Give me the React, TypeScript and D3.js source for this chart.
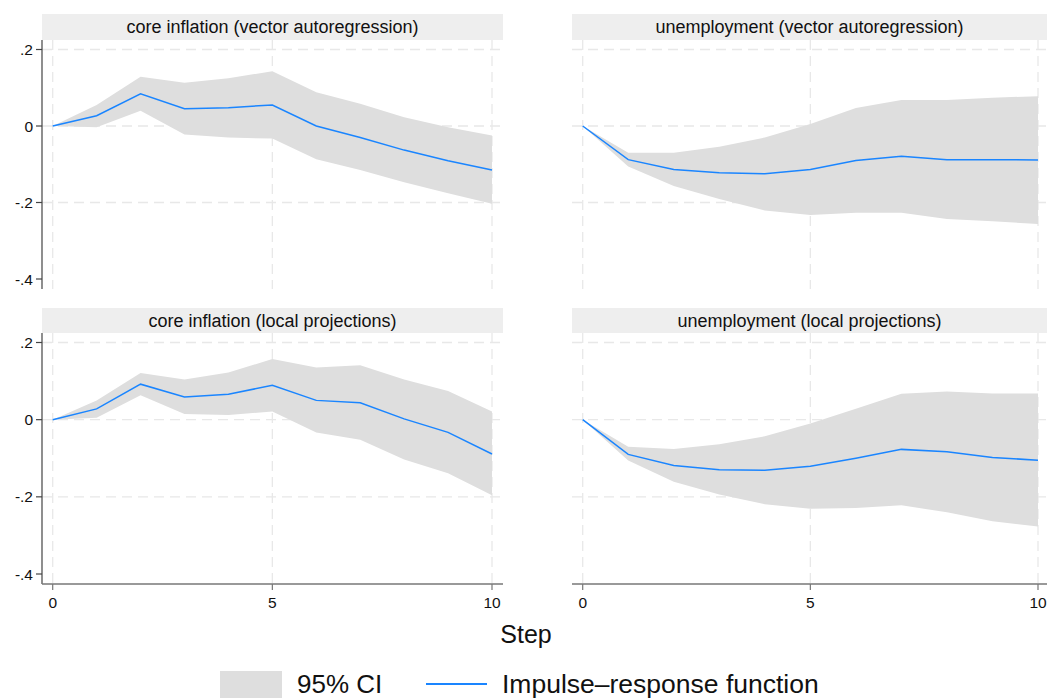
import React from 'react';
import * as d3 from 'd3';

const width = 1047;
const height = 698;

const steps = [0, 1, 2, 3, 4, 5, 6, 7, 8, 9, 10];
const xTicks = [0, 5, 10];
const yTicks = [0.2, 0, -0.2, -0.4];
const yTickLabels = ['.2', '0', '-.2', '-.4'];
const gridYValues = [0.2, 0, -0.2];

// core inflation, vector autoregression
const coreVarIrf = [0, 0.027, 0.084, 0.045, 0.048, 0.055, 0.0, -0.03, -0.063, -0.091, -0.115];
const coreVarLo = [0, -0.003, 0.04, -0.022, -0.03, -0.033, -0.087, -0.115, -0.147, -0.176, -0.203];
const coreVarHi = [0, 0.055, 0.129, 0.113, 0.125, 0.143, 0.088, 0.058, 0.023, -0.003, -0.025];

// unemployment, vector autoregression
const unempVarIrf = [0, -0.088, -0.114, -0.122, -0.125, -0.114, -0.09, -0.079, -0.088, -0.088, -0.089];
const unempVarLo = [0, -0.106, -0.157, -0.191, -0.221, -0.233, -0.227, -0.227, -0.243, -0.249, -0.256];
const unempVarHi = [0, -0.07, -0.07, -0.054, -0.03, 0.005, 0.047, 0.068, 0.068, 0.074, 0.078];

// core inflation, local projections
const coreLpIrf = [0, 0.028, 0.092, 0.059, 0.066, 0.089, 0.05, 0.044, 0.002, -0.033, -0.089];
const coreLpLo = [0, 0.005, 0.063, 0.015, 0.012, 0.021, -0.033, -0.052, -0.103, -0.139, -0.196];
const coreLpHi = [0, 0.05, 0.121, 0.104, 0.122, 0.157, 0.135, 0.141, 0.104, 0.074, 0.021];

// unemployment, local projections
const unempLpIrf = [0, -0.09, -0.119, -0.13, -0.131, -0.121, -0.1, -0.077, -0.083, -0.098, -0.105];
const unempLpLo = [0, -0.106, -0.161, -0.194, -0.219, -0.231, -0.229, -0.222, -0.24, -0.263, -0.277];
const unempLpHi = [0, -0.07, -0.076, -0.064, -0.043, -0.01, 0.028, 0.067, 0.073, 0.068, 0.068];

const panels = [
  { title: 'core inflation (vector autoregression)', col: 0, row: 0, irf: coreVarIrf, lo: coreVarLo, hi: coreVarHi },
  { title: 'unemployment (vector autoregression)', col: 1, row: 0, irf: unempVarIrf, lo: unempVarLo, hi: unempVarHi },
  { title: 'core inflation (local projections)', col: 0, row: 1, irf: coreLpIrf, lo: coreLpLo, hi: coreLpHi },
  { title: 'unemployment (local projections)', col: 1, row: 1, irf: unempLpIrf, lo: unempLpLo, hi: unempLpHi },
];

const cols = [
  { x0: 42, x1: 503 },
  { x0: 572, x1: 1049 },
];
const rows = [
  { stripTop: 14, top: 40, bottom: 289 },
  { stripTop: 308, top: 333, bottom: 584 },
];

const font = '"Liberation Sans", Arial, Helvetica, sans-serif';
const bandColor = '#dedede';
const lineColor = '#1a85ff';
const gridColor = '#e8e8e8';
const stripColor = '#eeeeee';

function Panel({ p }: { p: (typeof panels)[number] }) {
  const c = cols[p.col];
  const r = rows[p.row];
  const x = d3.scaleLinear().domain([0, 10]).range([c.x0 + 10.7, c.x1 - 11]);
  const y = d3.scaleLinear().domain([-0.4, 0.2]).range([r.bottom - 10, r.top + 9.5]);

  const area = d3
    .area<number>()
    .x((s) => x(s))
    .y0((s, i) => y(p.lo[i]))
    .y1((s, i) => y(p.hi[i]));
  const line = d3
    .line<number>()
    .x((s) => x(s))
    .y((s, i) => y(p.irf[i]));

  const showY = p.col === 0;
  const showX = p.row === 1;

  return (
    <g>
      <rect x={c.x0} y={r.stripTop} width={c.x1 - c.x0} height={r.top - r.stripTop} fill={stripColor} />
      <text
        x={(c.x0 + c.x1) / 2 - (p.col === 1 ? 1 : 0)}
        y={r.stripTop + 19}
        textAnchor="middle"
        fontSize={18}
        fontFamily={font}
        fill="#111"
      >
        {p.title}
      </text>

      {gridYValues.map((v) => (
        <line
          key={'gy' + v}
          x1={c.x0}
          x2={c.x1}
          y1={y(v)}
          y2={y(v)}
          stroke={gridColor}
          strokeWidth={1.3}
          strokeDasharray="10,6"
        />
      ))}
      {xTicks.map((t) => (
        <line
          key={'gx' + t}
          x1={x(t)}
          x2={x(t)}
          y1={r.top}
          y2={r.bottom}
          stroke={gridColor}
          strokeWidth={1.3}
          strokeDasharray="10,6"
        />
      ))}

      <path d={area(steps) ?? ''} fill={bandColor} />
      <path d={line(steps) ?? ''} fill="none" stroke={lineColor} strokeWidth={1.5} />

      {showY && (
        <g>
          <line x1={c.x0} x2={c.x0} y1={r.top} y2={r.bottom} stroke="#444" strokeWidth={1.2} />
          {yTicks.map((v, i) => (
            <g key={'yt' + v}>
              <line x1={c.x0 - 6} x2={c.x0} y1={y(v)} y2={y(v)} stroke="#444" strokeWidth={1.2} />
              <text
                x={c.x0 - 9}
                y={y(v)}
                dy="0.36em"
                textAnchor="end"
                fontSize={15.5}
                fontFamily={font}
                fill="#111"
              >
                {yTickLabels[i]}
              </text>
            </g>
          ))}
        </g>
      )}

      {showX && (
        <g>
          <line x1={c.x0} x2={c.x1} y1={r.bottom} y2={r.bottom} stroke="#777" strokeWidth={1.6} />
          {xTicks.map((t) => (
            <g key={'xt' + t}>
              <line x1={x(t)} x2={x(t)} y1={r.bottom} y2={r.bottom + 6} stroke="#777" strokeWidth={1.2} />
              <text x={x(t)} y={r.bottom + 24} textAnchor="middle" fontSize={15.5} fontFamily={font} fill="#111">
                {t}
              </text>
            </g>
          ))}
        </g>
      )}
    </g>
  );
}

export default function App() {
  return (
    <svg
      width={width}
      height={height}
      style={{ position: 'absolute', left: 0, top: 0, background: '#fff' }}
    >
      <rect width={width} height={height} fill="#fff" />
      {panels.map((p) => (
        <Panel key={p.title} p={p} />
      ))}

      <text x={526} y={643} textAnchor="middle" fontSize={25} fontFamily={font} fill="#111">
        Step
      </text>

      <g>
        <rect x={220} y={671} width={62} height={30} fill={bandColor} />
        <text x={297} y={693} fontSize={26} fontFamily={font} fill="#111">
          95% CI
        </text>
        <line x1={426} x2={487} y1={684} y2={684} stroke={lineColor} strokeWidth={1.8} />
        <text x={502} y={693} fontSize={26.5} fontFamily={font} fill="#111">
          Impulse–response function
        </text>
      </g>
    </svg>
  );
}
